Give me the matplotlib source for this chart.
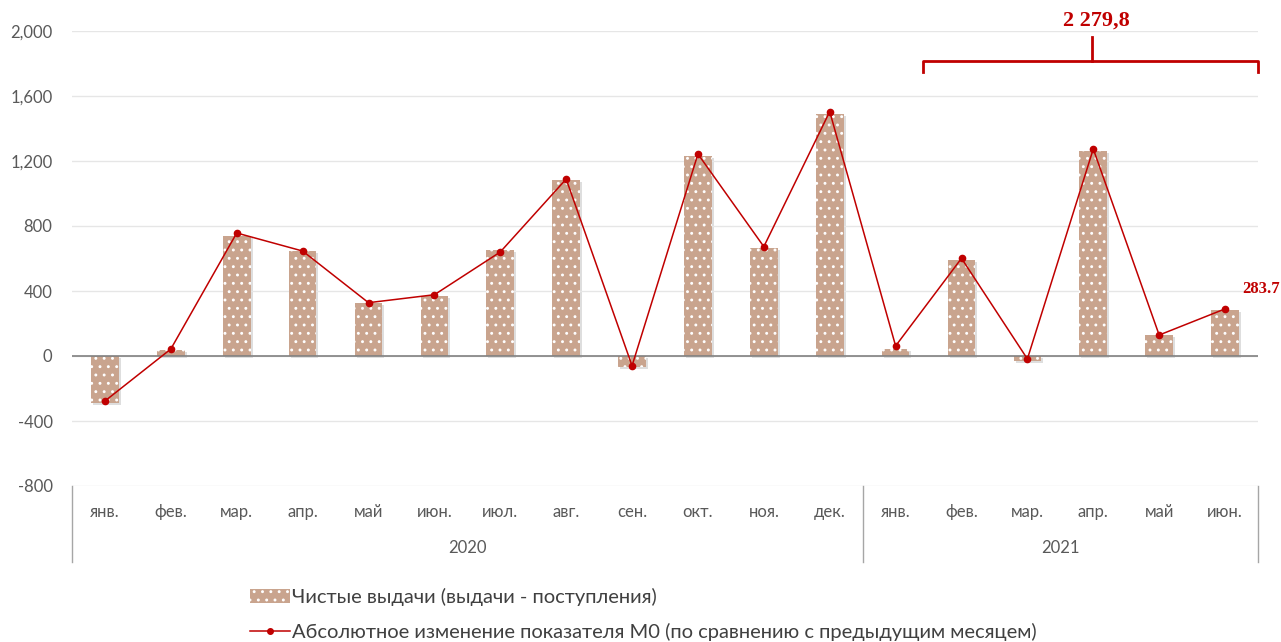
import numpy as np
import matplotlib.pyplot as plt
import matplotlib.transforms as mtransforms
from matplotlib.lines import Line2D
from matplotlib.patches import Patch

plt.rcParams['font.family'] = ['Lato', 'DejaVu Sans']
plt.rcParams['hatch.linewidth'] = 0.9

months = ['янв.', 'фев.', 'мар.', 'апр.', 'май', 'июн.', 'июл.', 'авг.', 'сен.', 'окт.', 'ноя.', 'дек.',
          'янв.', 'фев.', 'мар.', 'апр.', 'май', 'июн.']
years = ['2020', '2021']
year_len = [12, 6]
net_issue = [-289, 37, 738, 646, 326, 371, 652, 1083, -70, 1231, 667, 1489,
             46, 590, -30, 1262, 128, 283.7]
m0_change = [-277, 43, 757, 646, 328, 377, 640, 1089, -60, 1243, 673, 1504,
             62, 601, -18, 1274, 129, 290]
total_2021 = '2 279,8'
last_label = '283.7'
yticks = [-800, -400, 0, 400, 800, 1200, 1600, 2000]

bar_col = '#C9A48E'
red = '#C00000'
grey_txt = '#595959'

fig = plt.figure(figsize=(12.81, 6.42), dpi=100)
ax = fig.add_axes([72/1281, 1-486/642, (1258-72)/1281, (486-31)/642])

x = np.arange(len(months))
# soft shadow under bars
shadow = ax.transData + mtransforms.ScaledTranslation(2/100, -2/100, fig.dpi_scale_trans)
ax.bar(x, net_issue, width=0.42, color='#7F7F7F', alpha=0.25, linewidth=0, zorder=1.5,
       transform=shadow)
ax.bar(x, net_issue, width=0.42, color=bar_col, edgecolor='white', linewidth=0, hatch='..',
       zorder=2)
ax.plot(x, m0_change, color=red, lw=1.1, marker='o', ms=4.5, zorder=3)

ax.set_xlim(-0.5, len(months) - 0.5)
ax.set_ylim(-800, 2000)
ax.set_yticks(yticks)
ax.set_yticklabels([f'{v:,}' for v in yticks], color=grey_txt, fontsize=12)
ax.tick_params(axis='y', length=0, pad=14)
ax.set_xticks([])
ax.grid(axis='y', color='#E6E6E6', lw=1, zorder=0)
ax.axhline(0, color='#808080', lw=1.2, zorder=2.5)
for s in ax.spines.values():
    s.set_visible(False)

# category axis
trans = ax.get_xaxis_transform()
for i, m in enumerate(months):
    ax.text(i, -0.057, m, transform=trans, ha='center', va='center', fontsize=12, color=grey_txt)
start = -0.5
for yr, n in zip(years, year_len):
    ax.text(start + n / 2, -0.136, yr, transform=trans, ha='center', va='center', fontsize=12, color=grey_txt)
    ax.plot([start, start], [0, -0.167], transform=trans, color='#A6A6A6', lw=1, clip_on=False)
    start += n
ax.plot([start, start], [0, -0.167], transform=trans, color='#A6A6A6', lw=1, clip_on=False)

# bracket over 2021
bx0, bx1, bxc = 12.41, 17.5, 14.98
ax.plot([bx0, bx0, bx1, bx1], [1745, 1815, 1815, 1745], color=red, lw=2, clip_on=False,
        solid_joinstyle='round')
ax.plot([bxc, bxc], [1815, 1965], color=red, lw=2, clip_on=False)
ax.text(bxc + 0.06, 2065, total_2021, color=red, fontsize=16, fontweight='bold',
        family='Liberation Serif', ha='center', va='center', clip_on=False)
ax.text(17.55, 410, last_label, color=red, fontsize=12, fontweight='bold',
        family='Liberation Serif', ha='center', va='center', clip_on=False)

handles = [Patch(facecolor=bar_col, edgecolor='white', hatch='..', linewidth=0),
           Line2D([0], [0], color=red, lw=1.1, marker='o', ms=4)]
labels = ['Чистые выдачи (выдачи - поступления)',
          'Абсолютное изменение показателя М0 (по сравнению с предыдущим месяцем)']
fig.legend(handles, labels, loc='upper left', bbox_to_anchor=(250/1281, 1-588/642),
           frameon=False, fontsize=14.5, labelcolor='#404040', handlelength=2.0,
           handletextpad=0.1, labelspacing=0.85, borderpad=0, borderaxespad=0)

fig.savefig('out.png', dpi=100)
